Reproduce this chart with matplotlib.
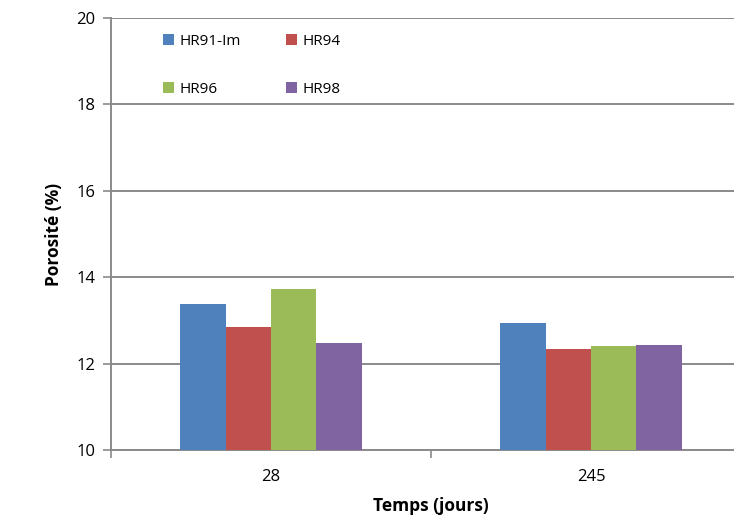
import matplotlib
matplotlib.use("Agg")
import matplotlib.pyplot as plt
import numpy as np

categories = ["28", "245"]
series_names = ["HR91-Im", "HR94", "HR96", "HR98"]
hr91 = [13.37, 12.94]
hr94 = [12.84, 12.34]
hr96 = [13.73, 12.41]
hr98 = [12.48, 12.44]
colors = ["#4F81BD", "#C0504D", "#9BBB59", "#8064A2"]

plt.rcParams['font.family'] = ['Open Sans', 'DejaVu Sans']

fig = plt.figure(figsize=(7.34, 5.22), dpi=100)
ax = fig.add_axes([111/734, 1-450/522, 640/734, 432/522])

x = np.arange(len(categories)) + 0.5
w = 0.142
data = [hr91, hr94, hr96, hr98]
handles = []
for i, (name, vals, c) in enumerate(zip(series_names, data, colors)):
    b = ax.bar(x + (i - 1.5) * w, np.array(vals) - 10, w, bottom=10, color=c, label=name, zorder=3)
    handles.append(b)

ax.set_xlim(0, 2)
ax.set_ylim(10, 20)
ax.set_yticks(np.arange(10, 21, 2))
ax.yaxis.grid(True, color="#8a8a8a", linewidth=1.4, zorder=0)
ax.set_axisbelow(True)
ax.set_xticks([0, 1, 2])
ax.set_xticklabels([])
ax.set_xticks(x, minor=True)
ax.set_xticklabels(categories, minor=True)
ax.tick_params(axis='x', which='minor', length=0, pad=14, labelsize=12)
ax.tick_params(axis='x', which='major', length=6, color="#8a8a8a", width=1.2)
ax.tick_params(axis='y', length=6, color="#8a8a8a", width=1.2, labelsize=12, pad=5)
for s in ["top", "right"]:
    ax.spines[s].set_visible(False)
for s in ["left", "bottom"]:
    ax.spines[s].set_color("#8a8a8a")
    ax.spines[s].set_linewidth(1.4)

ax.set_ylabel("Porosité (%)", fontsize=12.5, fontweight="bold", labelpad=10)
ax.set_xlabel("Temps (jours)", fontsize=12.5, fontweight="bold", labelpad=8)

order = [0, 2, 1, 3]
leg = ax.legend(handles=[handles[k] for k in order], labels=[series_names[k] for k in order],
                ncol=2, loc="upper left", bbox_to_anchor=(0.06, 0.995),
                frameon=False, fontsize=11, handlelength=0.7, handleheight=0.7,
                handletextpad=0.35, columnspacing=3.0, labelspacing=2.15)

fig.savefig("out.png", dpi=100)
